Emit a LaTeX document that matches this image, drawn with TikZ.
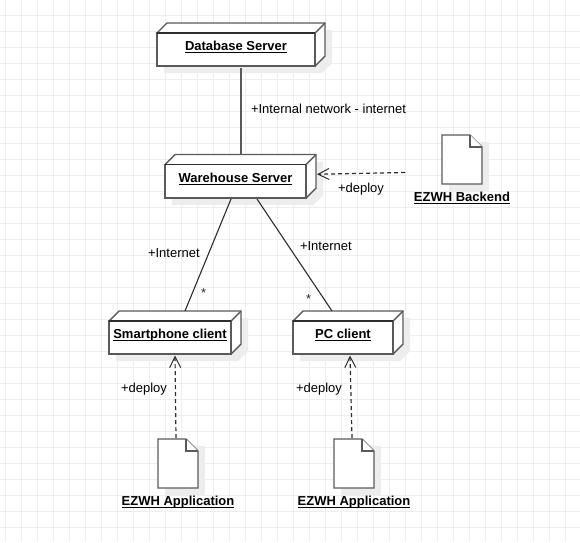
\documentclass[tikz,border=0pt]{standalone}
\usepackage{fontspec}
\setmainfont{Liberation Sans}
\usetikzlibrary{arrows.meta,calc}
\definecolor{gridc}{HTML}{EEEEEE}
\definecolor{shadowc}{HTML}{EDEDED}
\definecolor{linec}{HTML}{5A5A5A}
\definecolor{darkc}{HTML}{2E2E2E}
\tikzset{
  x=1pt,y=-1pt,
  every node/.style={font=\fontsize{13}{15}\selectfont,text=black,inner sep=0pt,outer sep=0pt},
  devbox/.style={draw=linec,line width=1.6pt,fill=white,font=\fontsize{13}{15}\selectfont\bfseries},
  devedge/.style={draw=linec,line width=1.4pt,fill=white,line join=miter},
  shadowfill/.style={fill=shadowc,draw=none},
  docbody/.style={draw=none,fill=none,minimum width=40pt,minimum height=49pt},
  doctitle/.style={font=\fontsize{13}{15}\selectfont\bfseries},
  lbl/.style={anchor=base west},
  starlbl/.style={anchor=base west,text=darkc},
  assoc/.style={draw=darkc,line width=1.1pt},
  netline/.style={draw=linec,line width=1.7pt},
  dep/.style={draw=darkc,line width=1.2pt,dash pattern=on 4pt off 3pt,-{Straight Barb[length=11pt,width=11pt,line width=1pt]}},
}
\newcommand{\ulbox}[1]{\raisebox{-1pt}[0pt][0pt]{\setbox0=\hbox{#1}\rlap{\rule[-2.6pt]{\wd0}{1.1pt}}\box0}}
% name, left, top, right, bottom, text
\newcommand{\devnode}[6]{%
  \fill[shadowfill] (#2+7,#3-3) -- (#4+17,#3-3) -- (#4+17,#5-3) -- (#4+7,#5+7) -- (#2+7,#5+7) -- cycle;
  \path[devedge] (#2,#3) -- (#2+10,#3-10) -- (#4+10,#3-10) -- (#4+10,#5-10) -- (#4,#5) -- cycle;
  \path[devedge] (#4,#3) -- (#4+10,#3-10);
  \node[devbox,minimum width=#4-#2,minimum height=#5-#3,anchor=north west] (#1) at (#2,#3) {\ulbox{#6}};
  \draw[draw=darkc,line width=1.6pt] (#1.north west) -- (#1.north east);
}
% name, left, top
\newcommand{\docnode}[3]{%
  \fill[shadowfill] (#2+7,#3+7) rectangle (#2+47,#3+56);
  \path[devedge] (#2,#3) -- (#2+28,#3) -- (#2+40,#3+12) -- (#2+40,#3+49) -- (#2,#3+49) -- cycle;
  \path[devedge] (#2+28,#3) -- (#2+28,#3+12) -- (#2+40,#3+12);
  \node[docbody,anchor=north west] (#1) at (#2,#3) {};
}
\begin{document}
\begin{tikzpicture}
\useasboundingbox (0,0) rectangle (580,542);
\fill[white] (0,0) rectangle (580,542);
\foreach \gx in {5,21,...,580} \draw[gridc,line width=1pt] (\gx,0) -- (\gx,542);
\foreach \gy in {15,31,...,542} \draw[gridc,line width=1pt] (0,\gy) -- (580,\gy);

\devnode{db}{157}{33}{315}{66}{Database Server}
\devnode{wh}{165}{164.5}{306}{198}{Warehouse Server}
\devnode{phone}{109}{321}{231}{354}{Smartphone client}
\devnode{pc}{293}{321}{393}{354}{PC client}
\docnode{backend}{442}{135}
\docnode{appa}{158}{439}
\docnode{appb}{334}{439}

\node[doctitle] (backendt) at (462,200) {\ulbox{EZWH Backend}};
\node[doctitle] (appat) at (178,504) {\ulbox{EZWH Application}};
\node[doctitle] (appbt) at (354,504) {\ulbox{EZWH Application}};

\path[netline] ($(db.south)+(5,2)$) -- ($(wh.north)+(5.5,-9.5)$);
\path[assoc] ($(wh.south)+(-4.5,1)$) -- ($(phone.north)+(15,-10)$);
\path[assoc] ($(wh.south)+(21.5,1)$) -- ($(pc.north)+(-11,-10)$);
\path[dep] ($(backend.west)+(-37,13)$) -- ($(wh.east)+(11,-7)$);
\path[dep] ($(appa.north)+(-2,-1)$) -- ($(phone.south)+(5,1.5)$);
\path[dep] ($(appb.north)+(-2,-1)$) -- ($(pc.south)+(7,1.5)$);

\node[lbl] (l1) at (251,113) {+Internal network - internet};
\node[lbl] (l2) at (338,192) {+deploy};
\node[lbl] (l3) at (148,257) {+Internet};
\node[lbl] (l4) at (300,250) {+Internet};
\node[starlbl] (l5) at (201,297) {*};
\node[starlbl] (l6) at (306,303) {*};
\node[lbl] (l7) at (121,392) {+deploy};
\node[lbl] (l8) at (296,392) {+deploy};
\end{tikzpicture}
\end{document}
